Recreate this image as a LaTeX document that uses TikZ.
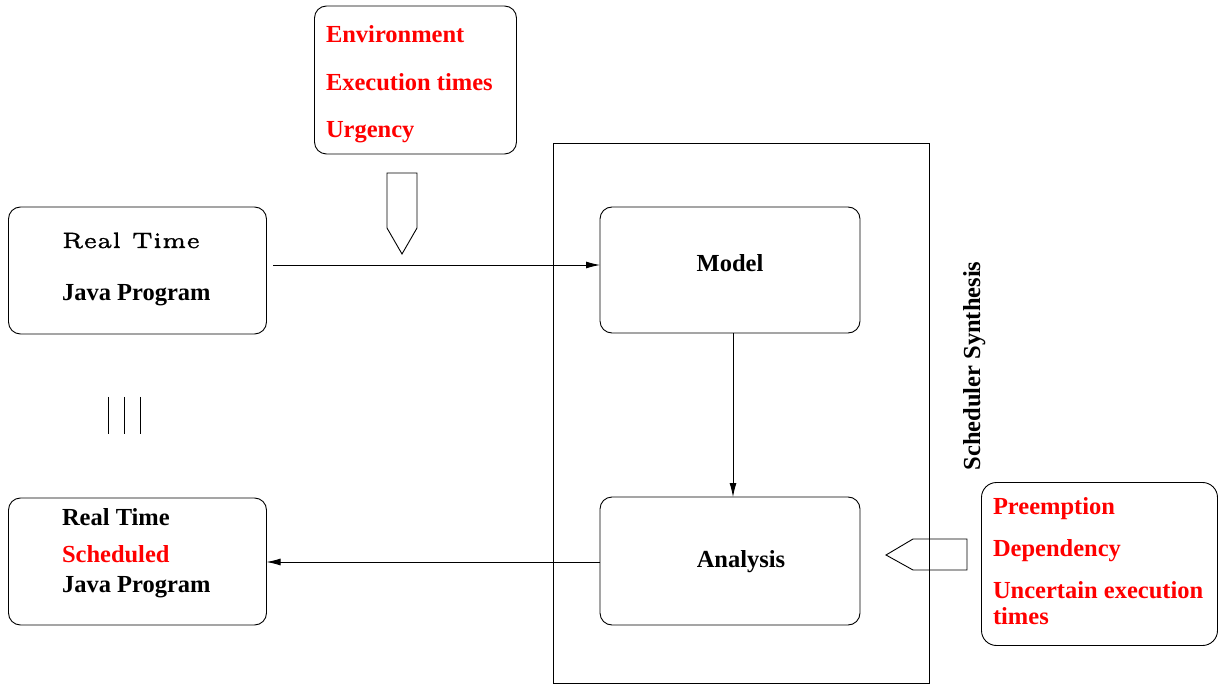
\documentclass[tikz,border=0pt]{standalone}
\usepackage{fontspec}
\usepackage{graphicx}
\usetikzlibrary{arrows.meta}
\newfontfamily\tms{Liberation Serif}
\newfontfamily\lmfive{lmroman5-regular}[Extension=.otf, FakeBold=1.2]
\definecolor{pured}{RGB}{255,0,0}
\begin{document}
\begin{tikzpicture}[x=1pt,y=-1pt,
  line width=0.9pt,
  box/.style={draw, rounded corners=12pt, inner sep=0pt, outer sep=0pt},
  lbl/.style={inner sep=0pt, outer sep=0pt, anchor=base west,
              font=\tms\bfseries\fontsize{24.5}{26}\selectfont},
  redlbl/.style={lbl, text=pured},
  arr/.style={-{Latex[length=14pt,width=7pt]}},
  pent/.style={draw, line join=miter}]
\useasboundingbox (0,0) rectangle (1218,684);

% outer frame of the synthesis stage
\node[draw, inner sep=0pt, outer sep=0pt, minimum width=376pt, minimum height=540pt] (frame) at (741,413) {};

% input annotations (top)
\node[box, minimum width=202pt, minimum height=148pt] (env) at (415.5,80) {};
\node[redlbl] (envA) at (326,43) {Environment};
\node[redlbl] (envB) at (326,91) {Execution times};
\node[redlbl] (envC) at (326,138) {Urgency};
\draw[pent] (387,173) -- (417,173) -- (417,228) -- (402,254) -- (387,228) -- cycle;

% source program
\node[box, minimum width=258pt, minimum height=127pt] (src) at (137.5,270.5) {};
\node[inner sep=0pt, outer sep=0pt, anchor=base west] (srcA) at (62,248)
  {\resizebox{138pt}{!}{\lmfive\fontsize{17}{17}\selectfont Real Time}};
\node[lbl] (srcB) at (62,301) {Java Program};

% parallel marks
\draw (108,397) -- (108,434);
\draw (124,397) -- (124,434);
\draw (140,397) -- (140,434);

% scheduled program
\node[box, minimum width=258pt, minimum height=127pt] (dst) at (137.5,561.5) {};
\node[lbl] (dstA) at (62,525) {Real Time};
\node[redlbl] (dstB) at (62,562) {Scheduled};
\node[lbl] (dstC) at (62,592) {Java Program};

% model and analysis
\node[box, minimum width=260pt, minimum height=126pt] (model) at (730,270) {};
\node[lbl, anchor=base] (modelT) at (730,272) {Model};
\node[box, minimum width=260pt, minimum height=128pt] (anal) at (730,561) {};
\node[lbl, anchor=base] (analT) at (741,567) {Analysis};

% stage title
\node[lbl, anchor=base, rotate=90] (title) at (980,366) {Scheduler Synthesis};

% input annotations (right)
\node[box, rounded corners=15pt, minimum width=236pt, minimum height=163pt] (cons) at (1099.5,564) {};
\node[redlbl] (consA) at (993,514) {Preemption};
\node[redlbl] (consB) at (993,556) {Dependency};
\node[redlbl] (consC) at (993,598) {Uncertain execution};
\node[redlbl] (consD) at (993,624) {times};
\draw[pent] (967,539) -- (913,539) -- (886,555) -- (913,570) -- (967,570) -- cycle;

% flow
\coordinate (inA) at (273,265);
\draw[arr] (inA) -- (inA -| model.west);
\draw[arr] (model.south -| 733,0) -- (anal.north -| 733,0);
\coordinate (outA) at (600,562);
\draw[arr] (outA) -- (outA -| dst.east);
\end{tikzpicture}
\end{document}
